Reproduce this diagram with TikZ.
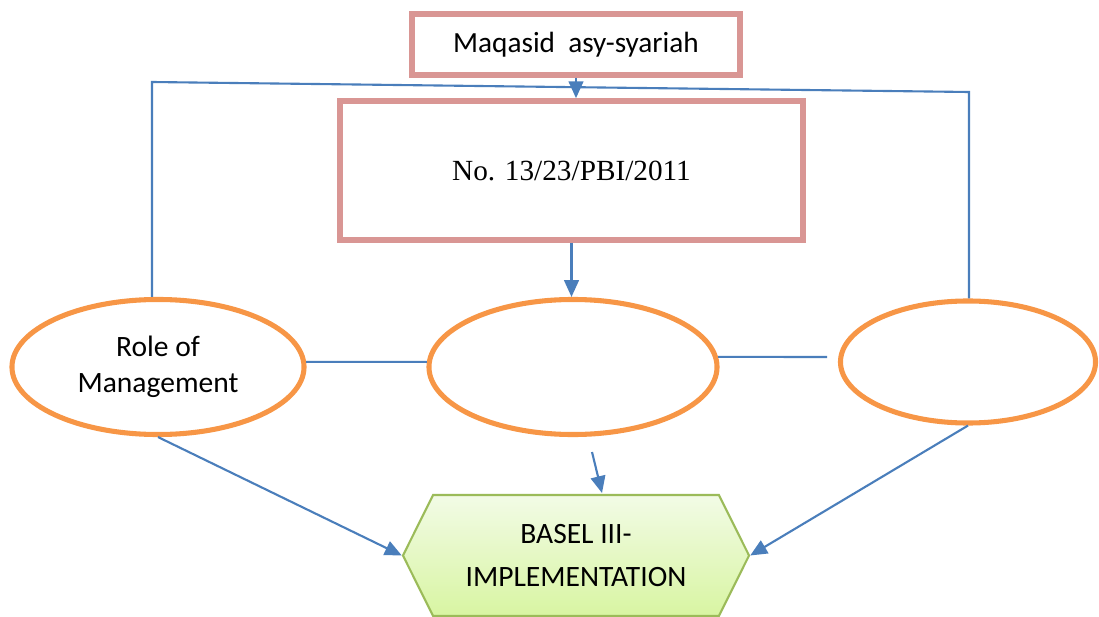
\documentclass[tikz,border=0pt]{standalone}
\usepackage{fontspec}
\setmainfont{Carlito}
\newfontfamily\seriffont{Liberation Serif}
\usetikzlibrary{arrows.meta,shapes.geometric,shapes.symbols}
\definecolor{pinkline}{HTML}{D99694}
\definecolor{orangeline}{HTML}{F79646}
\definecolor{blueline}{HTML}{4A7EBB}
\definecolor{greenline}{HTML}{9BBB59}
\definecolor{greentop}{HTML}{F2FBE6}
\definecolor{greenbottom}{HTML}{D8F5A2}

\begin{document}
    \begin{tikzpicture}[x=0.025cm, y=-0.025cm,
            pinkbox/.style={rectangle, draw=pinkline, line width=4pt, fill=white},
            oval/.style={ellipse, draw=orangeline, line width=3.6pt, align=center,
                font=\fontsize{21}{25.6}\selectfont},
            link/.style={draw=blueline, line width=1.5pt},
            arr/.style={link, -{Triangle[length=12pt,width=10.5pt]}}]
        \useasboundingbox (0,0) rectangle (1099,617);

        \node (maqasid) at (576,44.5)[pinkbox, minimum width=8.2cm, minimum height=1.525cm,
            font=\fontsize{20.8}{24}\selectfont]{Maqasid\ \ asy-syariah};
        \node (pbi) at (571.5,170.5)[pinkbox, minimum width=11.575cm, minimum height=3.475cm,
            font=\seriffont\fontsize{20.8}{24}\selectfont]{No. 13/23/PBI/2011};

        \node (role) at (158,367)[oval, minimum width=7.3cm, minimum height=3.375cm]{Role of\\Management};
        \node (mid) at (573,367)[oval, minimum width=7.2cm, minimum height=3.375cm]{};
        \node (right) at (968,362)[oval, minimum width=6.375cm, minimum height=3.05cm]{};

        \node (basel) at (576,555.5)[signal, signal to=east and west, signal pointer angle=127,
            draw=greenline, line width=1.5pt, top color=greentop, bottom color=greenbottom,
            minimum width=8.65cm, minimum height=3.025cm, inner sep=0pt, align=center,
            font=\fontsize{21}{30.6}\selectfont]{BASEL III-\\IMPLEMENTATION};

        % lines on top
        \coordinate (lc) at (152,82);
        \coordinate (rc) at (969,92);
        \draw[link] (lc |- role.north) -- (lc) -- (rc) -- (rc |- right.north);
        \draw[arr] (maqasid.south) -- (maqasid.south |- pbi.north);
        \draw[arr] (pbi.south) -- (pbi.south |- mid.north);

        % side links
        \coordinate (gap) at (827,357);
        \draw[link] (role.2) -- (mid.178);
        \draw[link] (mid.4) -- (gap);

        % into basel
        \coordinate (m1) at (592,452);
        \coordinate (m2) at (602,493);
        \draw[arr] (role.south) -- (basel.west);
        \draw[arr] (m1) -- (m2);
        \draw[arr] (right.south) -- (basel.east);
    \end{tikzpicture}
\end{document}
